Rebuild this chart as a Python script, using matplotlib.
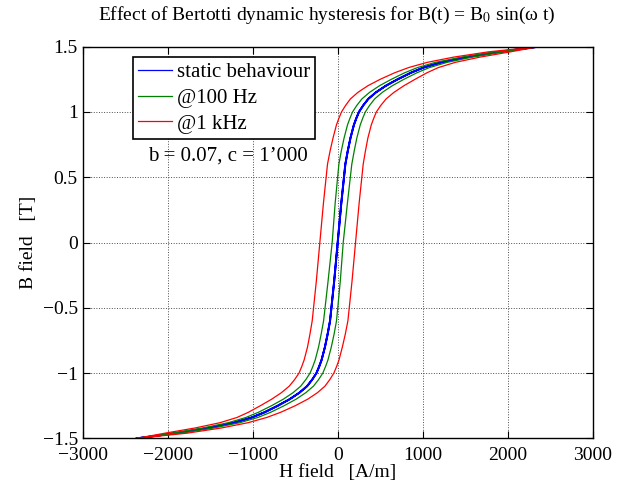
import matplotlib
matplotlib.use('Agg')
import matplotlib.pyplot as plt

B_levels = [-1.5, -1.46, -1.42, -1.38, -1.34, -1.3, -1.25, -1.2, -1.15, -1.1, -1.05, -1.0, -0.95, -0.9,
            -0.8, -0.7, -0.6, -0.3, 0, 0.3, 0.6, 0.7, 0.8, 0.9, 0.95, 1.0, 1.05, 1.1, 1.15, 1.2, 1.25,
            1.3, 1.34, 1.38, 1.42, 1.46, 1.5]

# static behaviour (A/m)
H_static = [-2365, -1900, -1520, -1220, -1010, -860, -705, -565, -450, -360, -300, -250, -218, -190,
            -150, -118, -90, -42, 0, 42, 90, 118, 150, 190, 218, 250, 300, 360, 450, 565, 705,
            860, 1010, 1220, 1520, 1900, 2365]

# @100 Hz, rising and falling branch
H_100_up = [-2365, -1846, -1456, -1152, -940, -788, -631, -490, -375, -285, -225, -175, -143, -115,
            -75, -42, -14, 30, 65, 114, 166, 194, 225, 265, 293, 325, 375, 435, 525, 640, 779,
            932, 1080, 1288, 1584, 1954, 2365]
H_100_down = [-2365, -1954, -1584, -1288, -1080, -932, -779, -640, -525, -435, -375, -325, -293, -265,
              -225, -194, -166, -114, -65, -30, 14, 42, 75, 115, 143, 175, 225, 285, 375, 490, 631,
              788, 940, 1152, 1456, 1846, 2365]

# @1 kHz, rising and falling branch
H_1k_up = [-2365, -1770, -1365, -1055, -835, -670, -500, -353, -238, -150, -93, -45, -13, 15,
           55, 90, 120, 168, 210, 252, 300, 326, 355, 395, 423, 455, 507, 570, 662, 777, 910,
           1050, 1185, 1385, 1675, 2030, 2365]
H_1k_down = [-2365, -2030, -1675, -1385, -1185, -1050, -910, -777, -662, -570, -507, -455, -423, -395,
             -355, -326, -300, -252, -210, -168, -120, -90, -55, -15, 13, 45, 93, 150, 238, 353, 500,
             670, 835, 1055, 1365, 1770, 2365]

x_ticks = [-3000, -2000, -1000, 0, 1000, 2000, 3000]
x_ticklabels = ['\u22123000', '\u22122000', '\u22121000', '0', '1000', '2000', '3000']
y_ticks = [-1.5, -1, -0.5, 0, 0.5, 1, 1.5]
y_ticklabels = ['\u22121.5', '\u22121', '\u22120.5', '0', '0.5', '1', '1.5']

plt.rcParams['font.family'] = ['Liberation Serif', 'DejaVu Serif']
plt.rcParams['mathtext.fontset'] = 'stix'

fig = plt.figure(figsize=(6.19, 4.86), dpi=100)
ax = fig.add_axes([0.1336, 0.098, 0.8239, 0.806])

loop_B = B_levels + B_levels[::-1]
ax.plot(H_static + H_static[::-1], loop_B, color=(0, 0, 1), lw=1.4, label='static behaviour')
ax.plot(H_100_up + H_100_down[::-1], loop_B, color=(0, 0.5, 0), lw=0.9, label='@100 Hz')
ax.plot(H_1k_up + H_1k_down[::-1], loop_B, color=(1, 0, 0), lw=0.9, label='@1 kHz')

ax.set_xlim(-3000, 3000)
ax.set_ylim(-1.5, 1.5)
ax.set_xticks(x_ticks)
ax.set_xticklabels(x_ticklabels)
ax.set_yticks(y_ticks)
ax.set_yticklabels(y_ticklabels)
ax.tick_params(direction='in', top=True, right=True, labelsize=14, length=5, width=0.8)
ax.tick_params(axis='x', pad=6)
ax.grid(True, linestyle=':', color='0.3', linewidth=0.7)
for s in ax.spines.values():
    s.set_linewidth(1.0)

ax.set_xlabel('H field   [A/m]', fontsize=14, labelpad=0)
ax.set_ylabel('B field   [T]', fontsize=14, labelpad=4)
ax.set_title('Effect of Bertotti dynamic hysteresis for B(t) = B$_0$ sin(\u03c9 t)', fontsize=14,
             pad=19, x=0.478)

ax.text(-2230, 0.66, 'b = 0.07, c = 1\u2019000', fontsize=15, va='center', ha='left')

leg = ax.legend(loc='upper left', bbox_to_anchor=(0.099, 0.973), borderaxespad=0, fontsize=15,
                handlelength=1.6, handletextpad=0.25, labelspacing=0.3, borderpad=0.25,
                fancybox=False, framealpha=1, edgecolor='black')
leg.get_frame().set_linewidth(1.2)
leg.get_lines()[0].set_linewidth(0.9)

plt.savefig('out.png', dpi=100)
